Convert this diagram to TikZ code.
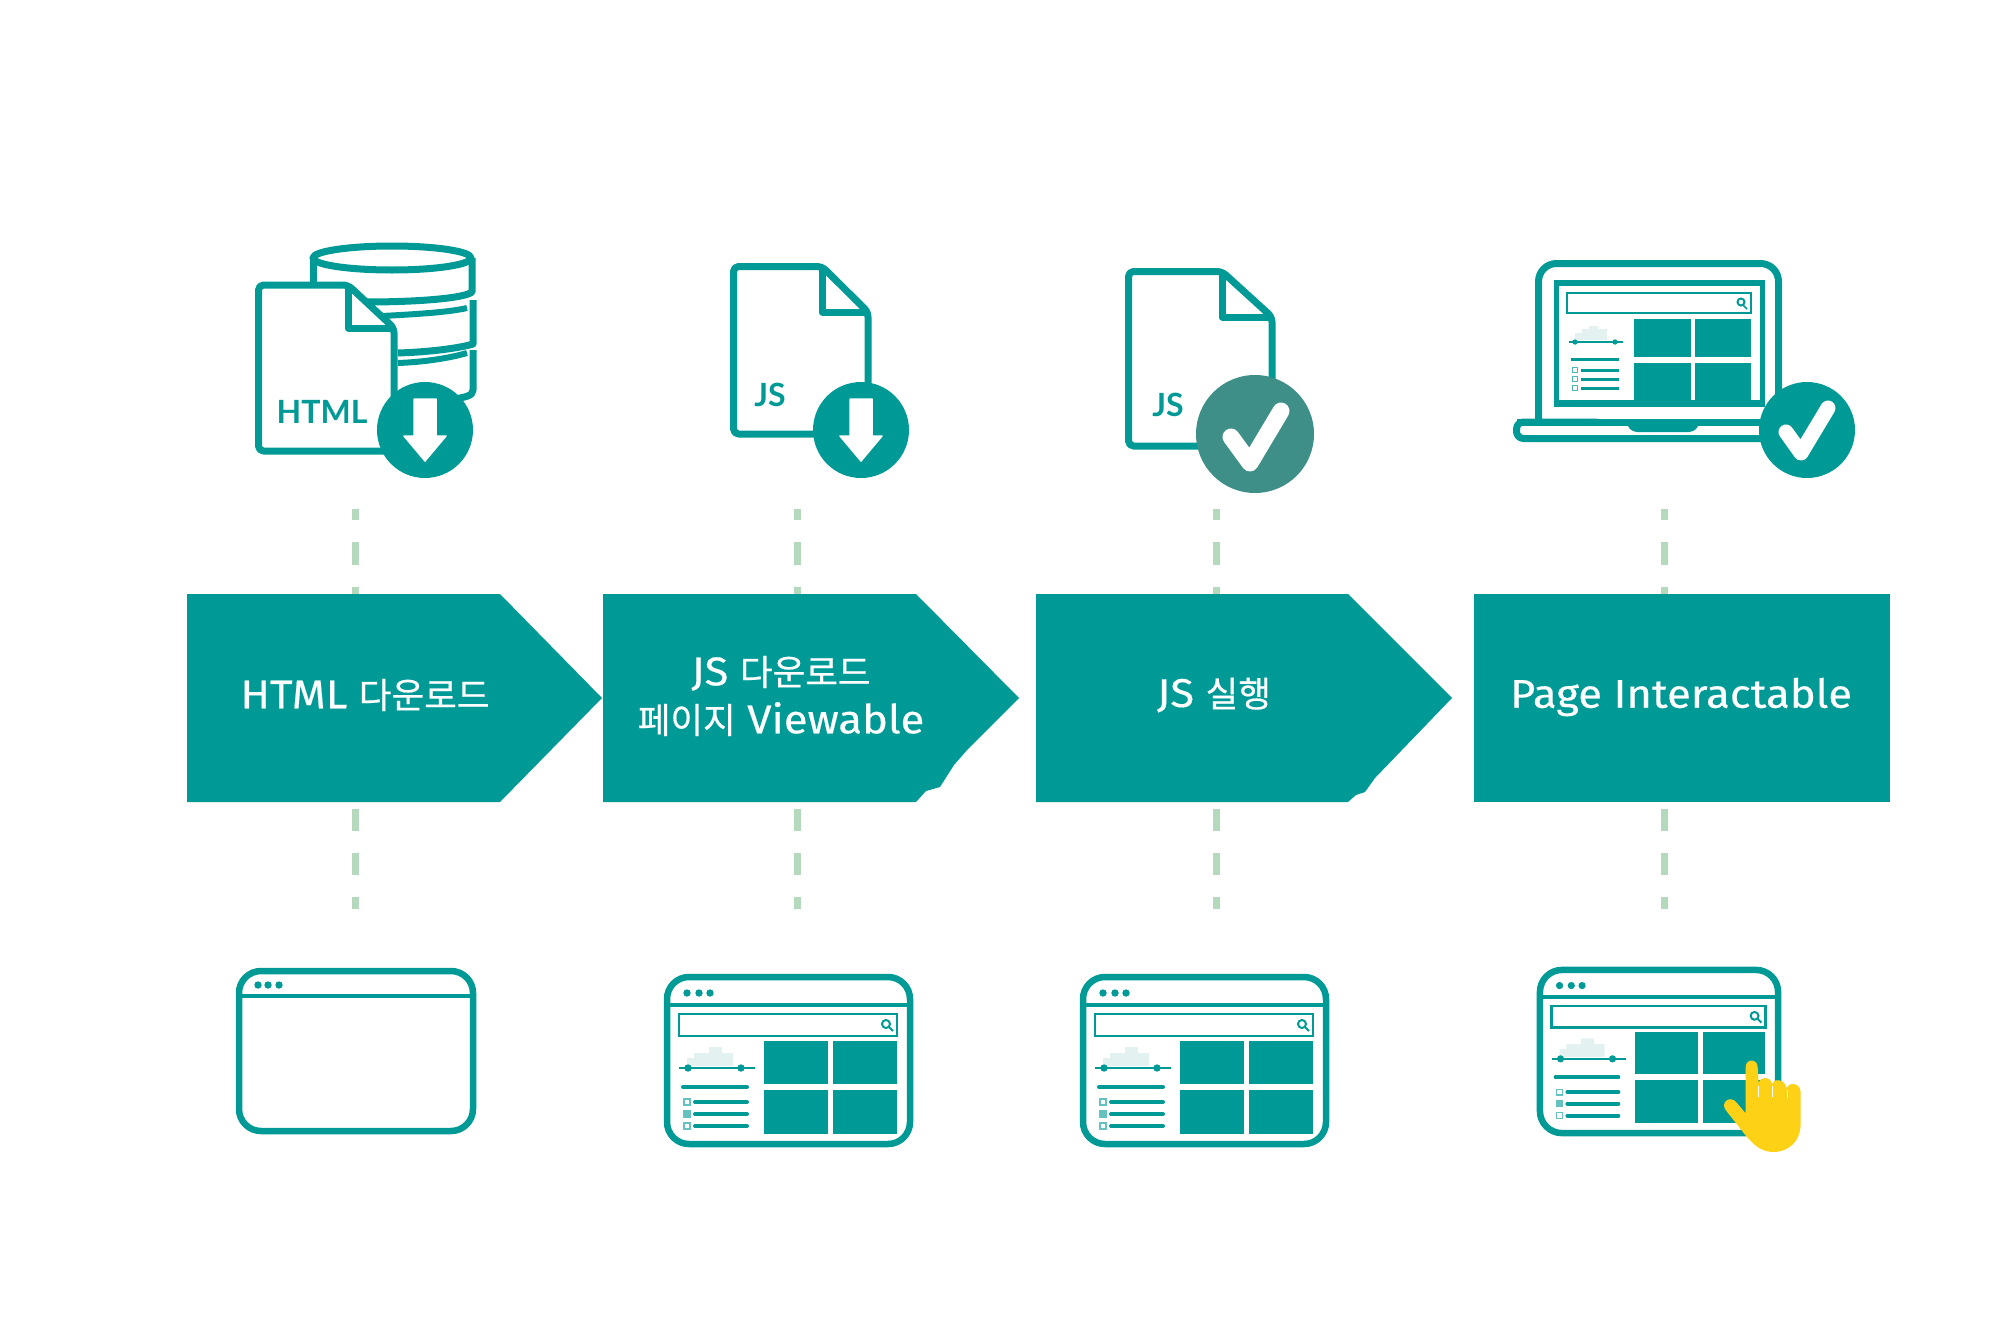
\documentclass[tikz,border=0pt]{standalone}
\usepackage{fontspec}
\setmainfont{Fira Sans}[FakeBold=0.35,FakeStretch=1.09]
\newfontfamily\krfont{Noto Sans CJK KR}[FakeBold=0.5]
\newfontfamily\iconfont{Lato}[BoldFont={Lato Bold}]
\definecolor{teal1}{HTML}{009A96}
\definecolor{teal2}{HTML}{3D8F88}
\definecolor{dashgreen}{HTML}{B4D9BC}
\definecolor{hillc}{HTML}{E3F2F0}
\definecolor{handc}{HTML}{FDD216}
\newcommand{\docfile}[6]{%
  \draw[tealline,fill=white,rounded corners=5pt] (#1,{(#2+#4)/2}) -- (#1,#2) -- (#5,#2) -- (#3,#6) -- (#3,#4) -- (#1,#4) -- cycle;
  \draw[tealline,line join=round] (#5,#2) -- (#5,#6) -- (#3,#6);}
\newcommand{\krtext}[1]{{\krfont\fontsize{35.5}{48}\selectfont #1}}
\tikzset{
  tealline/.style={draw=teal1,line width=7pt,line join=round},
  thinteal/.style={draw=teal1,line width=4pt},
  badge/.style={fill=teal1,draw=none},
  checkstroke/.style={draw=white,line width=15pt,line cap=round,line join=round},
  steparrow/.style={fill=teal1,draw=none},
  guide/.style={draw=dashgreen,line width=7pt},
  toplabel/.style={text=white,align=center,font=\fontsize{40}{48}\selectfont},
  iconlabel/.style={text=teal1,font=\iconfont\bfseries\fontsize{32}{32}\selectfont,inner sep=0pt},
  browserframe/.pic={
    \draw[tealline,fill=white,line width=6.5pt,rounded corners=22pt] (3,3) rectangle (246,170);
    \draw[thinteal] (3,31) -- (246,31);
    \foreach \dx in {23,35,46} \fill[teal1] (\dx,19) circle (3.7);
  },
  emptyframe/.pic={
    \draw[tealline,fill=white,line width=6.5pt,rounded corners=22pt] (3,3) rectangle (237,163);
    \draw[thinteal] (3,28) -- (237,28);
    \foreach \dx in {22,32,43} \fill[teal1] (\dx,17) circle (3.7);
  },
  browserpage/.pic={
    \pic {browserframe};
    \draw[draw=teal1,line width=2.6pt] (15,40) rectangle (233,62);
    \draw[draw=teal1,line width=2pt] (222,50) circle (4);
    \draw[draw=teal1,line width=2pt] (225,53) -- (229,57);
    \fill[teal1] (100,67) rectangle (164,110);
    \fill[teal1] (169,67) rectangle (233,110);
    \fill[teal1] (100,116) rectangle (164,160);
    \fill[teal1] (169,116) rectangle (233,160);
    \fill[hillc] (23,92) -- (23,84) -- (30,84) -- (30,79) -- (45,79) -- (45,73) -- (58,73) -- (58,79) -- (69,79) -- (69,92) -- cycle;
    \draw[draw=teal1,line width=1.6pt] (15,94) -- (91,94);
    \fill[teal1] (24,94) circle (3.7) (77,94) circle (3.7);
    \draw[thinteal,line cap=round] (19,113) -- (83,113);
    \foreach \ly in {128,140,152} \draw[thinteal,line cap=round] (31,\ly) -- (83,\ly);
    \draw[draw=teal1!60,line width=1.2pt] (20,125) rectangle (26,131);
    \draw[draw=teal1!60,fill=teal1!60,line width=1.2pt] (20,137) rectangle (26,143);
    \draw[draw=teal1!60,line width=1.2pt] (20,149) rectangle (26,155);
  }
}
\begin{document}
\begin{tikzpicture}[x=1pt,y=-1pt]
\useasboundingbox[fill=white] (0,0) rectangle (2000,1322);

% guides
\foreach \n/\gx in {a/355,b/797,c/1216,d/1664}{
  \coordinate (top\n) at (\gx,509);
  \coordinate (topend\n) at (\gx,600);
  \coordinate (low\n) at (\gx,809);
  \coordinate (lowend\n) at (\gx,909);
  \draw[guide,dash pattern=on 11pt off 22pt on 23pt off 22pt on 40pt] (top\n) -- (topend\n);
  \draw[guide,dash pattern=on 22pt off 22pt on 22pt off 22pt on 12pt] (low\n) -- (lowend\n);
}

% step arrows
\fill[steparrow] (187,594) -- (500,594) -- (602,698) -- (500,802) -- (187,802) -- cycle;
\fill[steparrow] (603,594) -- (916,594) -- (1019,698) -- (968,749) -- (954,765) -- (940,787) -- (926,791) -- (916,802) -- (603,802) -- cycle;
\fill[steparrow] (1036,594) -- (1348,594) -- (1452,698) -- (1375,778) -- (1365,792) -- (1356,795) -- (1348,802) -- (1036,802) -- cycle;
\fill[steparrow] (1474,594) rectangle (1890,802);

\node[toplabel] (lab1) at (365,695) {HTML \krtext{다운로드}};
\node[toplabel] (lab2) at (781,696) {JS \krtext{다운로드}\\\krtext{페이지} Viewable};
\node[toplabel] (lab3) at (1214,695) {JS \krtext{실행}};
\node[toplabel] (lab4) at (1681,697) {Page Interactable};

% database + HTML file
\draw[tealline,fill=white] (392,258) ellipse (79 and 12);
\draw[tealline] (313,258) -- (313,285);
\draw[tealline] (472,258) -- (472,292) .. controls (465,298) and (420,302) .. (366,302);
\draw[tealline,line width=6pt] (382,316) .. controls (420,314) and (450,312) .. (467,308);
\draw[tealline] (473,300) -- (473,344) .. controls (460,348) and (430,352) .. (398,353);
\draw[tealline,line width=6pt] (398,363) .. controls (425,362) and (450,358) .. (467,353);
\draw[tealline] (473,350) -- (473,390) .. controls (473,396) and (465,397) .. (455,399);
\docfile{258.5}{285}{394}{451}{348}{328}
\node[iconlabel] (iconhtml) at (322,412) {HTML};
\fill[badge] (425,430) circle (48);
\fill[white,draw=white,line width=1.5pt,line join=round] (414,399) -- (436,399) -- (436,436) -- (446,436) -- (425,461) -- (404,436) -- (414,436) -- cycle;

% JS download
\docfile{733.5}{266.5}{868}{434}{822}{312}
\node[iconlabel] (iconjsa) at (770,395) {JS};
\fill[badge] (861,430) circle (48);
\fill[white,draw=white,line width=1.5pt,line join=round] (850,399) -- (872,399) -- (872,436) -- (882,436) -- (861,461) -- (840,436) -- (850,436) -- cycle;

% JS run
\docfile{1128.5}{271.5}{1272}{446}{1222}{317}
\node[iconlabel] (iconjsb) at (1168,405) {JS};
\fill[teal2] (1255,434) circle (59);
\draw[checkstroke,line width=17pt] (1231,437) -- (1250,463) -- (1281,411);

% laptop
\begin{scope}[shift={(-3,0)}]
\draw[tealline,rounded corners=18pt] (1541.5,422) -- (1541.5,263.5) -- (1781.5,263.5) -- (1781.5,422);
\draw[teal1,line width=5pt] (1559.5,283) rectangle (1765.5,404);
\fill[teal1] (1557,280) rectangle (1768,286);
\fill[teal1] (1557,400) rectangle (1768,407);
\draw[teal1,line width=2pt] (1570,293) rectangle (1754,313);
\draw[teal1,line width=2pt] (1744,302) circle (3.5);
\draw[teal1,line width=1.5pt] (1746,305) -- (1750,309);
\fill[teal1] (1637,319) rectangle (1694,357);
\fill[teal1] (1698,319) rectangle (1754,357);
\fill[teal1] (1637,363) rectangle (1694,400);
\fill[teal1] (1698,363) rectangle (1754,400);
\fill[hillc] (1578,340) -- (1578,333) -- (1585,333) -- (1585,329) -- (1592,329) -- (1592,326) -- (1601,326) -- (1601,329) -- (1610,329) -- (1610,340) -- cycle;
\draw[teal1,line width=1.4pt] (1572,342) -- (1626,342);
\fill[teal1] (1578,342) circle (2.7) (1618,342) circle (2.7);
\draw[teal1,line width=3pt] (1574,359) -- (1622,359);
\foreach \ly in {370,379,388}{
  \draw[teal1,line width=3pt] (1584,\ly) -- (1622,\ly);
  \draw[teal1!70,line width=1pt] (1575.5,\ly-2.5) rectangle (1580.5,\ly+2.5);
}
\draw[tealline,rounded corners=7pt] (1600,422) -- (1519.5,422) -- (1519.5,438.5) -- (1780,438.5);
\draw[tealline] (1519.5,422) -- (1770,422);
\fill[teal1,rounded corners=4pt] (1630,420) -- (1702,420) -- (1702,426) -- (1696,432) -- (1636,432) -- (1630,426) -- cycle;
\fill[badge] (1810,430) circle (48);
\draw[checkstroke] (1789,432) -- (1804,453) -- (1831,408);
\end{scope}

% browsers
\pic (page1) at (236,968) {emptyframe};
\pic (page2) at (664,974) {browserpage};
\pic (page3) at (1080,974) {browserpage};
\begin{scope}[shift={(1537,967)},x=0.98pt,y=-0.977pt]
\pic (page4) at (0,0) {browserpage};
\end{scope}

% hand
\begin{scope}[shift={(1520,950)},x=0.3333pt,y=-0.3333pt]
\fill[handc] (677,352) .. controls (677,325) and (713,325) .. (713,352) -- (716,400)
  .. controls (720,378) and (752,378) .. (756,402)
  .. controls (760,385) and (795,385) .. (800,415)
  .. controls (805,395) and (840,398) .. (842,425) -- (842,520)
  .. controls (842,580) and (800,608) .. (755,606)
  .. controls (715,603) and (695,575) .. (680,560) -- (617,480)
  .. controls (600,455) and (632,435) .. (650,458) -- (677,490) -- cycle;
\draw[white,line width=1pt] (717,408) -- (717,442) (757,408) -- (757,442) (802,420) -- (802,445);
\end{scope}
\end{tikzpicture}
\end{document}
